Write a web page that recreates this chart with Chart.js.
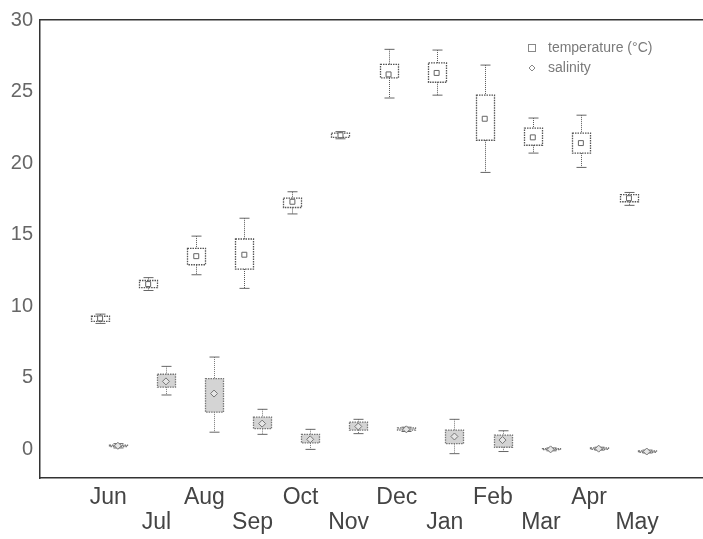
<!DOCTYPE html>
<html>
<head>
<meta charset="utf-8">
<script src="https://cdn.jsdelivr.net/npm/chart.js@4.4.1/dist/chart.umd.min.js"></script>
<style>
  html, body { margin: 0; padding: 0; background: #fff; overflow: hidden; }
  #wrap { width: 708px; height: 539px; }
</style>
</head>
<body>
<div id="wrap"><canvas id="c"></canvas></div>
<script>
const months = ['Jun', 'Jul', 'Aug', 'Sep', 'Oct', 'Nov', 'Dec', 'Jan', 'Feb', 'Mar', 'Apr', 'May'];
const yTicks = [0, 5, 10, 15, 20, 25, 30];

// temperature (°C) boxes: whisker min, q1, median, q3, whisker max
const tempMin = [8.8, 11.1, 12.2, 11.25, 16.45, 21.7, 24.55, 24.75, 19.35, 20.7, 19.7, 17.05];
const tempQ1  = [8.95, 11.3, 12.9, 12.6, 16.9, 21.8, 25.95, 25.65, 21.6, 21.25, 20.7, 17.3];
const tempMed = [9.15, 11.55, 13.5, 13.6, 17.3, 21.95, 26.2, 26.3, 23.1, 21.8, 21.4, 17.55];
const tempQ3  = [9.3, 11.8, 14.05, 14.7, 17.55, 22.1, 26.9, 27.0, 24.75, 22.45, 22.1, 17.8];
const tempMax = [9.45, 12.0, 14.9, 16.15, 18.0, 22.2, 27.95, 27.9, 26.85, 23.15, 23.35, 17.95];

// salinity boxes
const salMin = [0.1, 3.8, 1.2, 1.05, 0.0, 1.1, 1.25, -0.3, -0.15, -0.1, -0.05, -0.25];
const salQ1  = [0.2, 4.35, 2.6, 1.45, 0.45, 1.35, 1.35, 0.4, 0.15, -0.02, 0.0, -0.2];
const salMed = [0.25, 4.75, 3.9, 1.8, 0.7, 1.6, 1.4, 0.9, 0.65, 0.0, 0.05, -0.15];
const salQ3  = [0.3, 5.25, 4.95, 2.25, 1.05, 1.9, 1.5, 1.35, 1.0, 0.05, 0.1, -0.1];
const salMax = [0.4, 5.8, 6.45, 2.8, 1.4, 2.1, 1.55, 2.1, 1.3, 0.1, 0.15, -0.05];

const TEMP_OFF = -0.17, SAL_OFF = 0.2;

const tempPts = tempMed.map((v, i) => ({ x: i + 1 + TEMP_OFF, y: v }));
const salPts = salMed.map((v, i) => ({ x: i + 1 + SAL_OFF, y: v }));

// ---- box + whisker drawing through the scales ----
function drawBoxes(chart, off, mins, q1s, q3s, maxs, fill, stroke) {
  const { ctx, scales: { x, y } } = chart;
  const half = 9, cap = 5;
  mins.forEach((mn, i) => {
    const px = Math.round(x.getPixelForValue(i + 1 + off)) + 0.5;
    const yMin = y.getPixelForValue(mn), yMax = y.getPixelForValue(maxs[i]);
    const yQ1 = y.getPixelForValue(q1s[i]), yQ3 = y.getPixelForValue(q3s[i]);
    ctx.save();
    ctx.strokeStyle = stroke;
    ctx.lineWidth = 1;
    // whiskers
    ctx.setLineDash([1, 1]);
    ctx.beginPath();
    ctx.moveTo(px, yMax); ctx.lineTo(px, yQ3);
    ctx.moveTo(px, yQ1); ctx.lineTo(px, yMin);
    ctx.stroke();
    ctx.setLineDash([]);
    ctx.strokeStyle = '#666';
    ctx.beginPath();
    ctx.moveTo(px - cap, yMax); ctx.lineTo(px + cap, yMax);
    ctx.moveTo(px - cap, yMin); ctx.lineTo(px + cap, yMin);
    ctx.stroke();
    // box
    if (fill) {
      ctx.fillStyle = fill;
      ctx.fillRect(px - half, yQ3, half * 2, yQ1 - yQ3);
    }
    ctx.strokeStyle = stroke;
    ctx.setLineDash([1.5, 1]);
    ctx.lineWidth = 1.3;
    ctx.strokeRect(px - half, yQ3, half * 2, yQ1 - yQ3);
    ctx.restore();
  });
}

const boxPlugin = {
  id: 'boxes',
  beforeDatasetsDraw(chart) {
    drawBoxes(chart, TEMP_OFF, tempMin, tempQ1, tempQ3, tempMax, null, '#555');
    drawBoxes(chart, SAL_OFF, salMin, salQ1, salQ3, salMax, '#d4d4d4', '#777');
  },
  afterDraw(chart) {
    const { ctx, chartArea } = chart;
    const lx = 528, ly = chartArea.top + 28;
    ctx.save();
    ctx.font = '14px "Liberation Sans", Arial, sans-serif';
    ctx.fillStyle = '#7a7a7a';
    ctx.textBaseline = 'middle';
    ctx.fillText('temperature (°C)', lx + 20, ly);
    ctx.fillText('salinity', lx + 20, ly + 20);
    ctx.strokeStyle = '#888';
    ctx.lineWidth = 1;
    ctx.strokeRect(lx + 0.5, ly - 3.5, 7, 7);
    ctx.beginPath();
    ctx.moveTo(lx + 4, ly + 17); ctx.lineTo(lx + 7, ly + 20);
    ctx.lineTo(lx + 4, ly + 23); ctx.lineTo(lx + 1, ly + 20); ctx.closePath();
    ctx.stroke();
    ctx.restore();
  }
};

const frame = { display: true, color: '#333', width: 1.5, dash: [2, 1] };

new Chart(document.getElementById('c'), {
  type: 'scatter',
  data: {
    datasets: [
      {
        label: 'temperature (°C)',
        data: tempPts,
        pointStyle: 'rect',
        pointRadius: 3.5,
        backgroundColor: '#fff',
        borderColor: '#666',
        borderWidth: 1,
      },
      {
        label: 'salinity',
        data: salPts,
        pointStyle: 'rectRot',
        pointRadius: 3.5,
        backgroundColor: '#e6e6e6',
        borderColor: '#777',
        borderWidth: 1,
      }
    ]
  },
  options: {
    responsive: true,
    maintainAspectRatio: false,
    animation: false,
    layout: { padding: { top: 20, left: 0, right: 0, bottom: 0 } },
    plugins: { legend: { display: false }, tooltip: { enabled: false } },
    scales: {
      x: {
        type: 'linear',
        min: -0.42,
        max: 13.37,
        grid: { display: false, tickLength: 0 },
        border: frame,
        afterBuildTicks: s => { s.ticks = Array.from({ length: 14 }, (_, k) => ({ value: k })); },
        afterFit: s => { s.height = 61; },
        ticks: {
          autoSkip: false,
          maxRotation: 0,
          padding: 8,
          color: '#444',
          font: { family: '"Liberation Sans", Arial, sans-serif', size: 23, lineHeight: 1.05 },
          callback: v => {
            const m = months[v - 1];
            if (!m) return '';
            return v % 2 === 1 ? [m] : ['', m];
          }
        }
      },
      x2: {
        type: 'linear',
        position: 'top',
        min: -0.42,
        max: 13.37,
        grid: { display: false, tickLength: 0 },
        border: frame,
        ticks: { display: false },
        afterFit: s => { s.height = 0; }
      },
      y: {
        min: -2,
        max: 30,
        grid: { display: false, tickLength: 0 },
        border: frame,
        afterBuildTicks: s => { s.ticks = yTicks.map(v => ({ value: v })); },
        afterFit: s => { s.width = 40; },
        ticks: {
          padding: 7,
          color: '#666',
          font: { family: '"Liberation Sans", Arial, sans-serif', size: 20 }
        }
      }
    }
  },
  plugins: [boxPlugin]
});
</script>
</body>
</html>
